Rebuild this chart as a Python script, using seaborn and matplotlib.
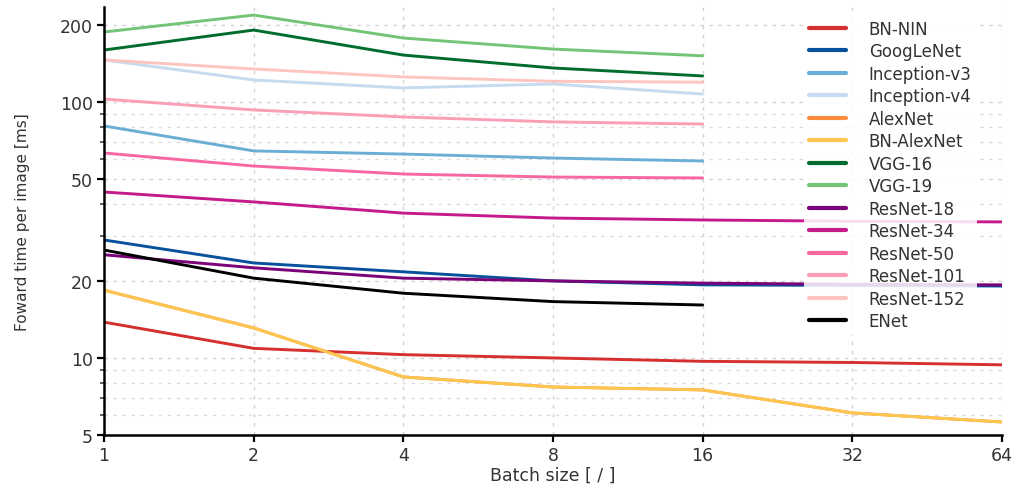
import numpy as np
import pandas as pd
import matplotlib
matplotlib.use("Agg")
import matplotlib.pyplot as plt
import matplotlib.ticker as mticker
import seaborn as sns

# ---- data ----
batch_sizes = [1, 2, 4, 8, 16, 32, 64]
batch_labels = ["1", "2", "4", "8", "16", "32", "64"]

models = ["BN-NIN", "GoogLeNet", "Inception-v3", "Inception-v4", "AlexNet",
          "BN-AlexNet", "VGG-16", "VGG-19", "ResNet-18", "ResNet-34",
          "ResNet-50", "ResNet-101", "ResNet-152", "ENet"]

bn_nin = [13.8, 10.9, 10.3, 10.0, 9.7, 9.6, 9.4]
googlenet = [28.9, 23.5, 21.7, 20.0, 19.3, 19.2, 19.1]
inception_v3 = [80.6, 64.4, 62.6, 60.4, 58.8]
inception_v4 = [146.0, 121.9, 113.5, 117.6, 107.4]
alexnet = [18.4, 13.1, 8.43, 7.7, 7.5, 6.1, 5.62]
bn_alexnet = [18.4, 13.1, 8.43, 7.7, 7.5, 6.1, 5.62]
vgg16 = [159.6, 191.0, 152.5, 135.8, 126.4]
vgg19 = [187.7, 218.6, 177.8, 161.0, 151.5]
resnet18 = [25.3, 22.5, 20.5, 20.0, 19.6, 19.4, 19.3]
resnet34 = [44.5, 40.7, 36.8, 35.2, 34.6, 34.2, 34.0]
resnet50 = [63.2, 56.2, 52.3, 50.9, 50.5]
resnet101 = [102.7, 93.1, 87.4, 83.6, 82.0]
resnet152 = [146.0, 134.6, 125.3, 120.5, 119.5]
enet = [26.4, 20.5, 17.9, 16.6, 16.1]

series = [bn_nin, googlenet, inception_v3, inception_v4, alexnet, bn_alexnet,
          vgg16, vgg19, resnet18, resnet34, resnet50, resnet101, resnet152, enet]

colors = ["#d62f2f", "#08519c", "#6aaed6", "#c6dbef", "#fd8d3c", "#fcc64f",
          "#006d2c", "#74c476", "#7a0177", "#c51b8a", "#f768a1", "#fa9fb5",
          "#fcc5c0", "#000000"]

y_ticks = [5, 10, 20, 50, 100, 200]

rows = []
for name, vals in zip(models, series):
    for b, v in zip(batch_sizes, vals):
        rows.append({"batch": b, "time": v, "model": name})
df = pd.DataFrame(rows)

# ---- plot ----
sns.set_theme(style="white")
plt.rcParams["font.family"] = ["DejaVu Sans"]

fig = plt.figure(figsize=(10.24, 4.89), dpi=100)
ax = fig.add_axes([0.1016, 0.1084, 0.8769, 0.8752])

sns.lineplot(data=df, x="batch", y="time", hue="model", hue_order=models,
             palette=dict(zip(models, colors)), linewidth=2.1, ax=ax,
             sort=False, estimator=None)

ax.set_xscale("log", base=2)
ax.set_yscale("log")
ax.set_xlim(1, 64)
ax.set_ylim(5, 235)

ax.xaxis.set_major_locator(mticker.FixedLocator(batch_sizes))
ax.xaxis.set_major_formatter(mticker.FixedFormatter(batch_labels))
ax.xaxis.set_minor_locator(mticker.NullLocator())

ax.yaxis.set_major_locator(mticker.FixedLocator(y_ticks))
ax.yaxis.set_major_formatter(mticker.FixedFormatter([str(t) for t in y_ticks]))
ax.yaxis.set_minor_locator(mticker.LogLocator(base=10, subs=np.arange(2, 10)))
ax.yaxis.set_minor_formatter(mticker.NullFormatter())

ax.grid(True, which="major", axis="both", color="#d2d2d2", linestyle=(0, (2.5, 4)), linewidth=1.0)
ax.grid(True, which="minor", axis="y", color="#dcdcdc", linestyle=(0, (2.5, 4)), linewidth=1.0)

for s in ["top", "right"]:
    ax.spines[s].set_visible(False)
for s in ["left", "bottom"]:
    ax.spines[s].set_color("black")
    ax.spines[s].set_linewidth(1.8)

ax.tick_params(axis="both", which="major", direction="out", length=5, width=1.6,
               color="black", labelsize=12.5, labelcolor="#333333", pad=3,
               left=True, bottom=True)
ax.tick_params(axis="y", which="minor", direction="out", length=3, width=1.2,
               color="#444444", left=True)

ax.set_xlabel("Batch size [ / ]", fontsize=12.5, color="#333333", labelpad=1)
ax.set_ylabel("Foward time per image [ms]", fontsize=11, color="#333333")
ax.yaxis.set_label_coords(-0.083, 0.5)

handles, labels = ax.get_legend_handles_labels()
leg = ax.legend(handles, labels, loc="upper left",
                bbox_to_anchor=(0.785, 0.968), bbox_transform=fig.transFigure,
                fontsize=12, frameon=True, framealpha=0.85, facecolor="white",
                edgecolor="none", labelspacing=0.27, handlelength=2.2,
                handletextpad=1.4, borderpad=0.3, borderaxespad=0)
for t in leg.get_texts():
    t.set_color("#333333")
for l in leg.get_lines():
    l.set_linewidth(3)

fig.savefig("out.png", dpi=100)
